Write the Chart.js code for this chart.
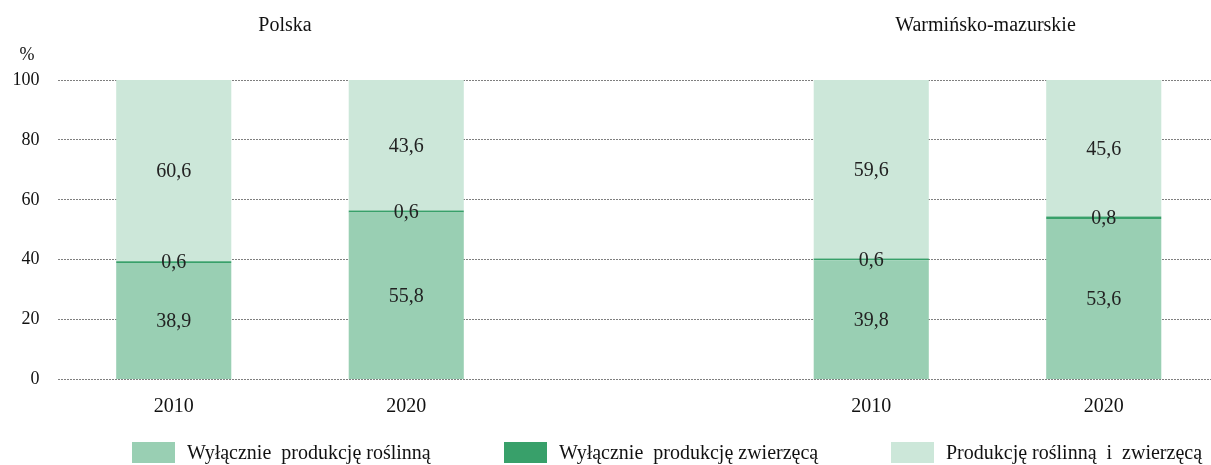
<!DOCTYPE html>
<html>
<head>
<meta charset="utf-8">
<script src="https://cdn.jsdelivr.net/npm/chart.js@4.4.1/dist/chart.umd.min.js"></script>
<style>
  html, body { margin: 0; padding: 0; background: #fff; overflow: hidden; }
  #wrap { width: 1220px; height: 465px; }
</style>
</head>
<body>
<div id="wrap"><canvas id="chart"></canvas></div>
<script>
// categories: two years per region, empty slot between regions
const years = ['2010', '2020', '', '2010', '2020'];
const regions = ['Polska', 'Warmińsko-mazurskie'];
const yTicks = [0, 20, 40, 60, 80, 100];

const seriesNames = [
  'Wyłącznie  produkcję roślinną',
  'Wyłącznie  produkcję zwierzęcą',
  'Produkcję roślinną  i  zwierzęcą'
];
const plantOnly  = [38.9, 55.8, null, 39.8, 53.6];
const animalOnly = [0.6, 0.6, null, 0.6, 0.8];
const both       = [60.6, 43.6, null, 59.6, 45.6];

const colors = ['#99cfb3', '#38a06a', '#cce7d9'];
const FONT = "'Liberation Serif', 'Times New Roman', serif";

// value labels in the middle of each segment
const valueLabels = {
  id: 'valueLabels',
  afterDatasetsDraw(chart) {
    const ctx = chart.ctx;
    ctx.save();
    ctx.font = '20px ' + FONT;
    ctx.fillStyle = '#222';
    ctx.textAlign = 'center';
    ctx.textBaseline = 'middle';
    chart.data.datasets.forEach((ds, i) => {
      chart.getDatasetMeta(i).data.forEach((bar, j) => {
        const v = ds.data[j];
        if (v == null) return;
        const y = (bar.y + bar.base) / 2;
        ctx.fillText(v.toFixed(1).replace('.', ','), bar.x, y + 1);
      });
    });
    ctx.restore();
  }
};

// region titles, % sign and legend
const extras = {
  id: 'extras',
  afterDraw(chart) {
    const ctx = chart.ctx;
    const x = chart.scales.x;
    ctx.save();
    ctx.fillStyle = '#111';
    ctx.font = '20px ' + FONT;
    ctx.textAlign = 'center';
    ctx.textBaseline = 'middle';
    ctx.fillText(regions[0], (x.getPixelForValue(0) + x.getPixelForValue(1)) / 2 - 5, 26);
    ctx.fillText(regions[1], (x.getPixelForValue(3) + x.getPixelForValue(4)) / 2 - 2, 26);
    ctx.font = '18px ' + FONT;
    ctx.fillText('%', 27, 55);

    const legendX = [132, 504, 891];
    ctx.font = '20px ' + FONT;
    ctx.textAlign = 'left';
    seriesNames.forEach((name, i) => {
      ctx.fillStyle = colors[i];
      ctx.fillRect(legendX[i], 442, 43, 21);
      ctx.fillStyle = '#111';
      ctx.fillText(name, legendX[i] + 55, 454);
    });
    ctx.restore();
  }
};

new Chart(document.getElementById('chart'), {
  type: 'bar',
  data: {
    labels: years,
    datasets: [
      { label: seriesNames[0], data: plantOnly, backgroundColor: colors[0] },
      { label: seriesNames[1], data: animalOnly, backgroundColor: colors[1] },
      { label: seriesNames[2], data: both, backgroundColor: colors[2] }
    ]
  },
  options: {
    responsive: true,
    maintainAspectRatio: false,
    animation: false,
    layout: { padding: { top: 80, left: 0, right: 0, bottom: 0 } },
    datasets: { bar: { barPercentage: 0.495, categoryPercentage: 1, borderWidth: 0 } },
    plugins: { legend: { display: false }, tooltip: { enabled: false } },
    scales: {
      x: {
        stacked: true,
        grid: { display: false },
        border: { display: false },
        ticks: { color: '#111', font: { family: FONT, size: 20 }, padding: 7 },
        afterFit: s => { s.height = 85.5; }
      },
      y: {
        stacked: true,
        min: 0,
        max: 100,
        afterBuildTicks: s => { s.ticks = yTicks.map(v => ({ value: v })); },
        grid: { color: '#7f7f7f', drawTicks: false },
        border: { display: false, dash: [2, 1] },
        ticks: { color: '#111', font: { family: FONT, size: 18 }, padding: 18 },
        afterFit: s => { s.width = 57.5; }
      }
    }
  },
  plugins: [valueLabels, extras]
});
</script>
</body>
</html>
